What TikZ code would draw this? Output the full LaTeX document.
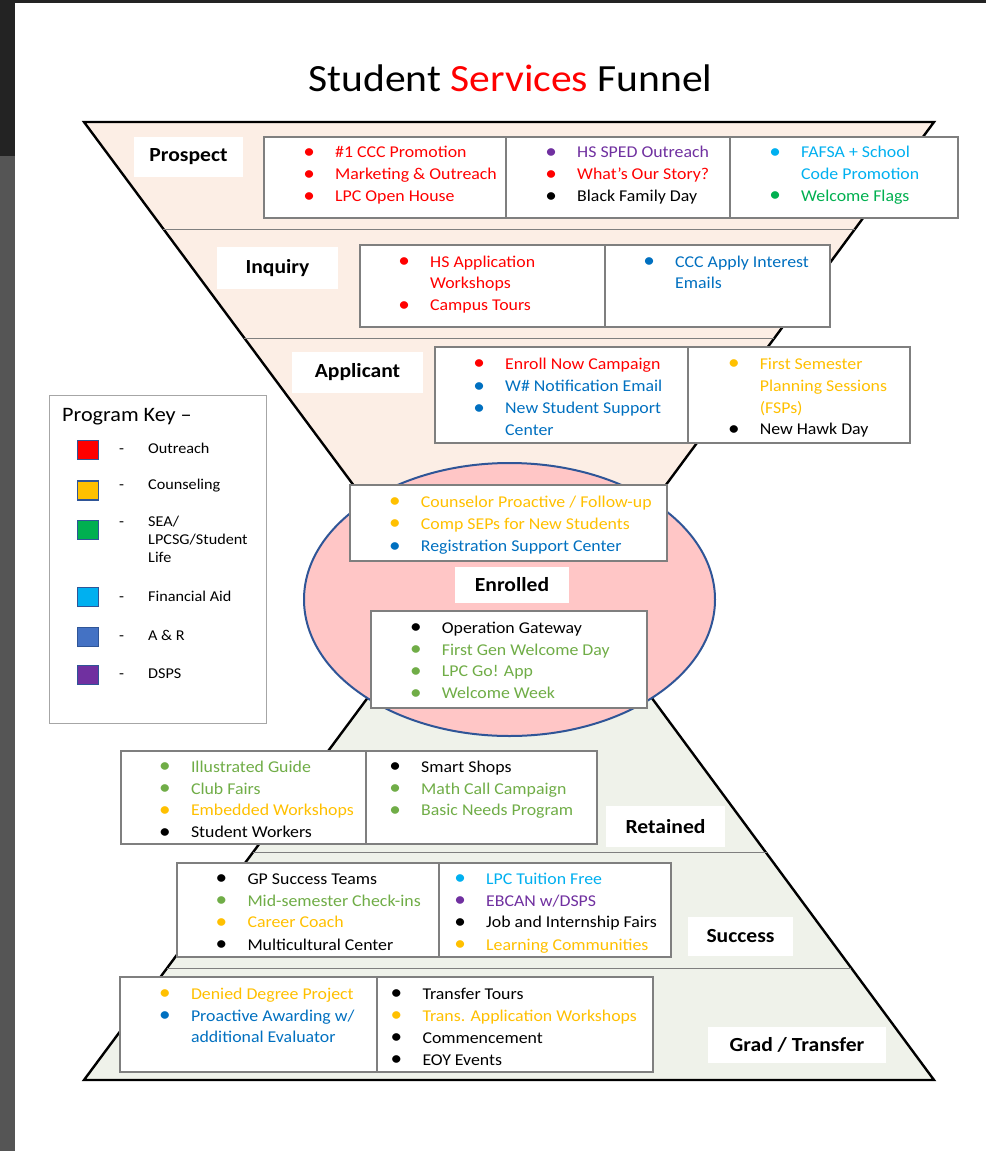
\documentclass[tikz,border=0pt]{standalone}
\usepackage{fontspec}
\setmainfont{Carlito}[FakeStretch=1.08]
\definecolor{cred}{HTML}{FF0000}
\definecolor{cpur}{HTML}{7030A0}
\definecolor{clbl}{HTML}{00B0F0}
\definecolor{cgrn}{HTML}{00B050}
\definecolor{cblu}{HTML}{0070C0}
\definecolor{cgld}{HTML}{FFC000}
\definecolor{colv}{HTML}{70AD47}
\definecolor{cblk}{HTML}{000000}
\definecolor{car}{HTML}{4472C4}
\definecolor{swbd}{HTML}{2F5597}
\definecolor{topfill}{HTML}{FCEEE5}
\definecolor{botfill}{HTML}{EFF2EA}
\definecolor{ellfill}{HTML}{FFC6C6}
\definecolor{boxgray}{HTML}{7F7F7F}
\definecolor{keygray}{HTML}{A6A6A6}
\definecolor{framedark}{HTML}{232323}
\definecolor{framegray}{HTML}{555555}
\tikzset{
  itm/.style={anchor=base west, inner sep=0pt, font=\fontsize{16.5}{20}\selectfont},
  lab/.style={fill=white, inner sep=0pt, font=\fontsize{20}{24}\selectfont\bfseries},
  cbox/.style={draw=boxgray, line width=1.1pt, fill=white},
  divl/.style={draw=boxgray, line width=1.1pt},
  funl/.style={draw=black, line width=2.4pt, line join=miter},
  sepl/.style={draw=boxgray, line width=0.9pt},
  ell/.style={draw=swbd, line width=2pt, fill=ellfill},
  sw/.style={draw=swbd, line width=1.6pt, minimum width=21pt, minimum height=19pt, inner sep=0pt},
  keyt/.style={anchor=base west, inner sep=0pt, font=\fontsize{15}{18}\selectfont},
  keyd/.style={anchor=base, inner sep=0pt, font=\fontsize{15}{18}\selectfont},
}
\newcommand\itm[5]{\node[itm,text=#2] (#1) at (#3,#4) {\llap{\makebox[52pt][c]{\raisebox{-0.6pt}{\scalebox{1.3}{•}}}}#5};}
\newcommand\cnt[5]{\node[itm,text=#2] (#1) at (#3,#4) {#5};}
\begin{document}
\begin{tikzpicture}[x=1pt,y=-1pt]
\useasboundingbox (0,0) rectangle (986,1151);
\fill[white] (0,0) rectangle (986,1151);
% frame
\fill[framedark] (0,0) rectangle (986,3);
\fill[framedark] (0,0) rectangle (15,156);
\fill[framegray] (0,156) rectangle (15,1151);
% title
\node[anchor=base, inner sep=0pt, font=\fontsize{38.5}{44}\selectfont] (title) at (510.5,91.5) {Student \textcolor{cred}{Services} Funnel};
% funnels
\draw[funl, fill=topfill] (84,122) -- (934,122) -- (510,696) -- cycle;
\draw[funl, fill=botfill] (84,1080) -- (934,1080) -- (510,506) -- cycle;
\draw[sepl] (163,229) -- (855,229);
\draw[sepl] (244,338) -- (774,338);
\draw[sepl] (253,852) -- (767,852);
\draw[sepl] (167,968) -- (851,968);
% ellipse
\draw[ell] (509.5,599.5) ellipse [x radius=205.5pt, y radius=136.5pt];
% content boxes
\draw[cbox] (264,137) rectangle (958,218);
\draw[divl] (506,137) -- (506,218);
\draw[divl] (730,137) -- (730,218);
\draw[cbox] (360,245) rectangle (830,327);
\draw[divl] (605,245) -- (605,327);
\draw[cbox] (435,347) rectangle (910,443);
\draw[divl] (688,347) -- (688,443);
\draw[cbox] (350,485) rectangle (667,561);
\draw[cbox] (371,611) rectangle (647,708);
\draw[cbox] (121,751) rectangle (597,844);
\draw[divl] (366,751) -- (366,844);
\draw[cbox] (177,863) rectangle (671,957);
\draw[divl] (439,863) -- (439,957);
\draw[cbox] (120,977) rectangle (653,1072);
\draw[divl] (377,977) -- (377,1072);
% stage labels
\node[lab, minimum width=109pt, minimum height=40pt] (prospect) at (188.5,157) {Prospect};
\node[lab, minimum width=121pt, minimum height=42pt] (inquiry) at (277.5,268) {Inquiry};
\node[lab, minimum width=131pt, minimum height=41pt] (applicant) at (357.5,372.5) {Applicant};
\node[lab, minimum width=114pt, minimum height=36pt] (enrolled) at (512,585) {Enrolled};
\node[lab, minimum width=119pt, minimum height=41pt] (retained) at (665.5,826.5) {Retained};
\node[lab, minimum width=105pt, minimum height=39pt] (success) at (740.5,936.5) {Success};
\node[lab, minimum width=178pt, minimum height=36pt] (grad) at (797,1045) {Grad / Transfer};
% Prospect items
\itm{p1}{cred}{335}{157.5}{\#1 CCC Promotion}
\itm{p2}{cred}{335}{179.5}{Marketing \& Outreach}
\itm{p3}{cred}{335}{201.5}{LPC Open House}
\itm{p4}{cpur}{577}{157.5}{HS SPED Outreach}
\itm{p5}{cred}{577}{179.5}{What’s Our Story?}
\itm{p6}{cblk}{577}{201.5}{Black Family Day}
\itm{p7}{clbl}{801}{157.5}{FAFSA + School}
\cnt{p8}{clbl}{801}{179}{Code Promotion}
\itm{p9}{cgrn}{801}{201}{Welcome Flags}
% Inquiry items
\itm{i1}{cred}{430}{267.3}{HS Application}
\cnt{i2}{cred}{430}{288.7}{Workshops}
\itm{i3}{cred}{430}{310.5}{Campus Tours}
\itm{i4}{cblu}{675}{267.3}{CCC Apply Interest}
\cnt{i5}{cblu}{675}{288.7}{Emails}
% Applicant items
\itm{a1}{cred}{505}{369.3}{Enroll Now Campaign}
\itm{a2}{cblu}{505}{391.5}{W\# Notification Email}
\itm{a3}{cblu}{505}{413.5}{New Student Support}
\cnt{a4}{cblu}{505}{435}{Center}
\itm{a5}{cgld}{759.6}{369.3}{First Semester}
\cnt{a6}{cgld}{759.6}{391.5}{Planning Sessions}
\cnt{a7}{cgld}{759.6}{413}{(FSPs)}
\itm{a8}{cblk}{759.6}{434.5}{New Hawk Day}
% Enrolled items
\itm{e1}{cgld}{420.7}{507.3}{Counselor Proactive / Follow-up}
\itm{e2}{cgld}{420.7}{529.3}{Comp SEPs for New Students}
\itm{e3}{cblu}{420.7}{551.5}{Registration Support Center}
\itm{e4}{cblk}{441.7}{633.3}{Operation Gateway}
\itm{e5}{colv}{441.7}{655.3}{First Gen Welcome Day}
\itm{e6}{colv}{441.7}{676.7}{LPC Go! App}
\itm{e7}{colv}{441.7}{698.7}{Welcome Week}
% Retained items
\itm{r1}{colv}{190.8}{772.3}{Illustrated Guide}
\itm{r2}{colv}{190.8}{794}{Club Fairs}
\itm{r3}{cgld}{190.8}{815.7}{Embedded Workshops}
\itm{r4}{cblk}{190.8}{837.7}{Student Workers}
\itm{r5}{cblk}{421}{772.3}{Smart Shops}
\itm{r6}{colv}{421}{794}{Math Call Campaign}
\itm{r7}{colv}{421}{815.7}{Basic Needs Program}
% Success items
\itm{s1}{cblk}{247.3}{884}{GP Success Teams}
\itm{s2}{colv}{247.3}{906}{Mid-semester Check-ins}
\itm{s3}{cgld}{247.3}{927.7}{Career Coach}
\itm{s4}{cblk}{247.3}{950}{Multicultural Center}
\itm{s5}{clbl}{486}{884}{LPC Tuition Free}
\itm{s6}{cpur}{486}{906}{EBCAN w/DSPS}
\itm{s7}{cblk}{486}{927.7}{Job and Internship Fairs}
\itm{s8}{cgld}{486}{950}{Learning Communities}
% Grad items
\itm{g1}{cgld}{190.8}{999}{Denied Degree Project}
\itm{g2}{cblu}{190.8}{1021}{Proactive Awarding w/}
\cnt{g3}{cblu}{190.8}{1042.5}{additional Evaluator}
\itm{g4}{cblk}{422.3}{999}{Transfer Tours}
\itm{g5}{cgld}{422.3}{1021}{Trans. Application Workshops}
\itm{g6}{cblk}{422.3}{1043}{Commencement}
\itm{g7}{cblk}{422.3}{1065}{EOY Events}
% Program key
\draw[draw=keygray, line width=1pt, fill=white] (49,395) rectangle (266,723);
\node[anchor=base west, inner sep=0pt, font=\fontsize{20.5}{24}\selectfont] (keytitle) at (62,421.7) {Program Key –};
\node[sw, fill=cred] (sw1) at (88,450) {};
\node[sw, fill=cgld] (sw2) at (88,490.5) {};
\node[sw, fill=cgrn] (sw3) at (88,530) {};
\node[sw, fill=clbl] (sw4) at (88,597) {};
\node[sw, fill=car] (sw5) at (88,637) {};
\node[sw, fill=cpur] (sw6) at (88,675) {};
\node[keyd] (d1) at (121.5,453.3) {-};
\node[keyd] (d2) at (121.5,489.3) {-};
\node[keyd] (d3) at (121.5,526) {-};
\node[keyd] (d4) at (121.5,601) {-};
\node[keyd] (d5) at (121.5,640.7) {-};
\node[keyd] (d6) at (121.5,678.3) {-};
\node[keyt] (k1) at (148,453.3) {Outreach};
\node[keyt] (k2) at (148,489.3) {Counseling};
\node[keyt] (k3a) at (148,526) {SEA/};
\node[keyt] (k3b) at (148,544.3) {LPCSG/Student};
\node[keyt] (k3c) at (148,562.7) {Life};
\node[keyt] (k4) at (148,601) {Financial Aid};
\node[keyt] (k5) at (148,640.7) {A \& R};
\node[keyt] (k6) at (148,678.3) {DSPS};
\end{tikzpicture}
\end{document}
